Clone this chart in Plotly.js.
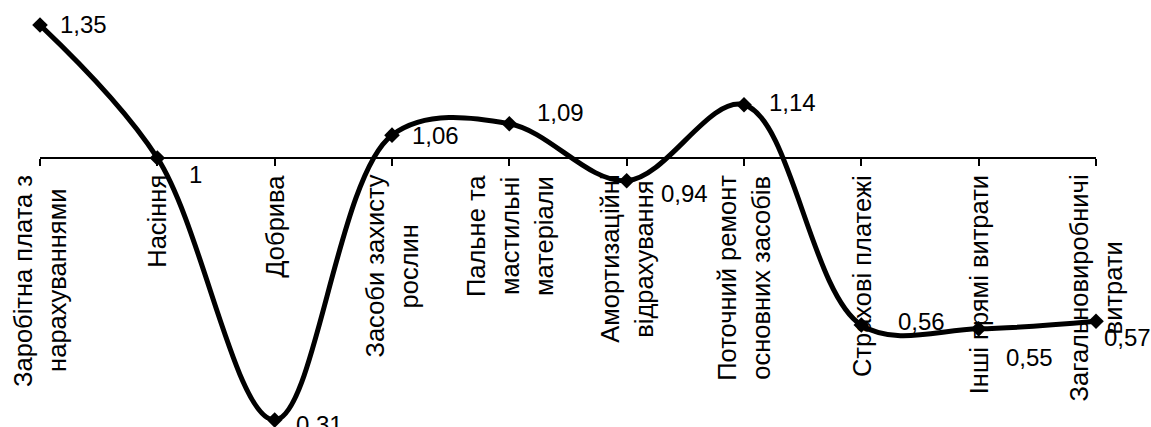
<!DOCTYPE html>
<html>
<head>
<meta charset="utf-8">
<script src="https://cdn.plot.ly/plotly-3.0.1.min.js"></script>
<style>html,body{margin:0;padding:0;background:#fff;}#chart{width:1151px;height:427px;}</style>
</head>
<body>
<div id="chart"></div>
<script>
// ---- data ----
const categoryLines = [
  ['Заробітна плата з', 'нарахуваннями'],
  ['Насіння'],
  ['Добрива'],
  ['Засоби захисту', 'рослин'],
  ['Пальне та', 'мастильні', 'матеріали'],
  ['Амортизаційні', 'відрахування'],
  ['Поточний ремонт', 'основних засобів'],
  ['Страхові платежі'],
  ['Інші прямі витрати'],
  ['Загальновиробничі', 'витрати']
];
const categories = categoryLines.map(l => l.join(' '));
const values = [1.35, 1, 0.31, 1.06, 1.09, 0.94, 1.14, 0.56, 0.55, 0.57];
const valueLabels = values.map(v => String(v).replace('.', ','));
const crossValue = 1;

// ---- style (label placement offsets in px: right, down) ----
const labelOffsets = [[18, -1], [30, 17], [19, 4], [18, 0], [26, -11], [32, 13], [23, -2], [35, -4], [25, 29], [6, 16]];
const FONT = 'Liberation Sans, Arial, sans-serif';
const FS_CAT = 25.5;
const FS_VAL = 24;
const LINE_GAP = 34;
const LABEL_GAP = 17;

const yMin = 0.31, yMax = 1.35;

const canvas = document.createElement('canvas');
const ctx = canvas.getContext('2d');
ctx.font = FS_CAT + 'px "Liberation Sans"';

const annotations = [];
categoryLines.forEach((lines, ci) => {
  const maxW = Math.max(...lines.map(t => ctx.measureText(t).width));
  lines.forEach((t, li) => {
    annotations.push({
      x: categories[ci], y: crossValue, xref: 'x', yref: 'y',
      text: t, showarrow: false, textangle: -90,
      xanchor: 'center', yanchor: 'middle',
      xshift: (li - (lines.length - 1) / 2) * LINE_GAP,
      yshift: -(LABEL_GAP + maxW / 2),
      font: {family: FONT, size: FS_CAT, color: '#000'}
    });
  });
});
values.forEach((v, i) => {
  annotations.push({
    x: categories[i], y: v, xref: 'x', yref: 'y',
    text: valueLabels[i], showarrow: false,
    xanchor: 'left', yanchor: 'middle',
    xshift: labelOffsets[i][0], yshift: -labelOffsets[i][1],
    font: {family: FONT, size: FS_VAL, color: '#000'}
  });
});

const trace = {
  type: 'scatter', mode: 'lines+markers',
  x: categories, y: values,
  line: {shape: 'spline', smoothing: 1, color: '#000', width: 5},
  marker: {symbol: 'diamond', size: 12, color: '#000'},
  cliponaxis: false, hoverinfo: 'skip'
};

const layout = {
  width: 1151, height: 427,
  margin: {l: 40, r: 55, t: 25, b: 7},
  paper_bgcolor: '#fff', plot_bgcolor: '#fff',
  showlegend: false,
  font: {family: FONT, size: FS_VAL, color: '#000'},
  xaxis: {
    type: 'category', range: [0, categories.length - 1],
    anchor: 'free', position: (crossValue - yMin) / (yMax - yMin),
    showline: true, linecolor: '#000', linewidth: 2,
    ticks: 'outside', ticklen: 7, tickwidth: 2, tickcolor: '#000',
    showticklabels: false, showgrid: false, zeroline: false
  },
  yaxis: {
    range: [yMin, yMax], visible: false, showgrid: false, zeroline: false
  },
  annotations: annotations
};

Plotly.newPlot('chart', [trace], layout, {displayModeBar: false, staticPlot: true});
</script>
</body>
</html>
